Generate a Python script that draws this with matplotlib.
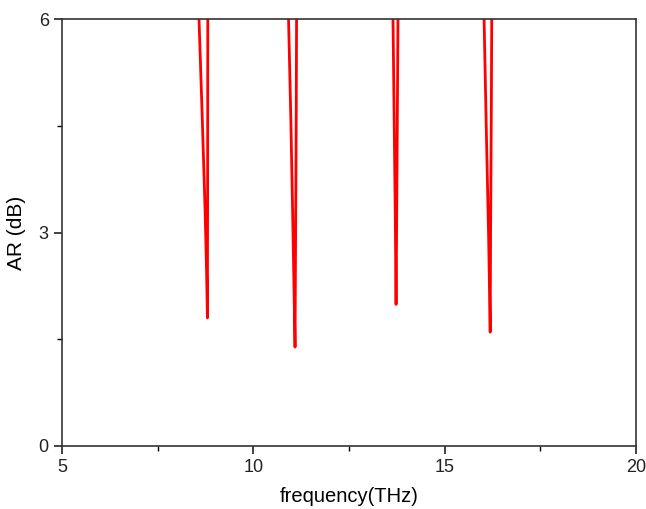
import matplotlib
matplotlib.use('Agg')
import matplotlib.pyplot as plt
from matplotlib.ticker import MultipleLocator

plt.rcParams['font.family'] = ['Liberation Sans', 'DejaVu Sans']

# AR curve; values above 6 dB are clipped by the axes
freq = [5.0, 8.50, 8.58, 8.66, 8.74, 8.78, 8.80, 8.805, 8.81, 8.815, 9.5,
        10.5, 10.88, 10.92, 10.98, 11.03, 11.07, 11.09, 11.10, 11.12, 11.13, 11.14, 12.5,
        13.5, 13.63, 13.65, 13.68, 13.71, 13.73, 13.75, 13.77, 13.78, 13.80, 15.0,
        15.8, 16.00, 16.03, 16.09, 16.15, 16.19, 16.20, 16.22, 16.23, 16.24, 17.5, 20.0]
ar = [12, 9, 6.0, 4.7, 3.3, 2.4, 1.80, 3.5, 6.0, 8, 12,
      12, 8, 6.0, 4.6, 3.2, 2.0, 1.39, 2.5, 4.5, 6.0, 8, 12,
      12, 8, 6.0, 4.6, 3.2, 1.99, 3.5, 5.2, 6.0, 8, 12,
      12, 8, 6.0, 4.4, 2.9, 1.60, 3.0, 4.8, 6.0, 8, 12, 12]

fig = plt.figure(figsize=(6.46, 5.09), dpi=100)
ax = fig.add_axes([62 / 646, 63 / 509, 574 / 646, 427 / 509])

ax.plot(freq, ar, color='#ff0000', linewidth=2.0)

ax.set_xlim(5, 20)
ax.set_ylim(0, 6)
ax.xaxis.set_major_locator(MultipleLocator(5))
ax.xaxis.set_minor_locator(MultipleLocator(2.5))
ax.yaxis.set_major_locator(MultipleLocator(3))
ax.yaxis.set_minor_locator(MultipleLocator(1.5))
ax.tick_params(which='major', direction='out', length=6, width=1.2, labelsize=13, colors='#222222')
ax.tick_params(which='minor', direction='out', length=3.5, width=1.0)
for s in ax.spines.values():
    s.set_linewidth(1.2)
    s.set_color('#333333')

ax.set_xlabel('frequency(THz)', fontsize=14.5, labelpad=8)
ax.set_ylabel('AR (dB)', fontsize=15, labelpad=9)

fig.savefig('out.png', dpi=100)
